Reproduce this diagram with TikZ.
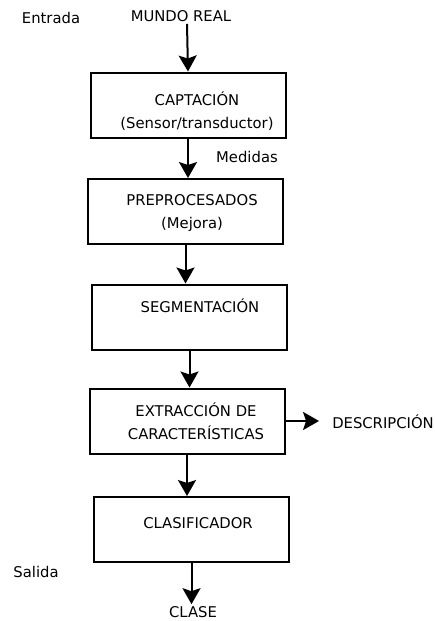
\documentclass[tikz,border=0pt]{standalone}
\usepackage{fontspec}
\setmainfont{DejaVu Sans}
\usetikzlibrary{arrows.meta}
\tikzset{
  caja/.style={draw, line width=2pt, minimum width=195pt, minimum height=65pt, inner sep=0pt},
  txt/.style={font=\fontsize{14.8}{23}\selectfont, inner sep=2pt, align=center},
  flecha/.style={line width=2pt, -{Stealth[length=16pt, width=18pt, inset=3pt]}}
}
\begin{document}
\begin{tikzpicture}[x=1pt, y=-1pt]
\useasboundingbox (0,0) rectangle (434,621);
\node[txt] (ent) at (51,18){Entrada};
\node[txt] (mundo) at (181,16){MUNDO REAL};
\node[caja] (caja1) at (188,105){};
\node[txt] (t1) at (197,111){CAPTACIÓN\\(Sensor/transductor)};
\node[txt] (med) at (247,157){Medidas};
\node[caja] (caja2) at (185.5,211.5){};
\node[txt] (t2) at (192,213){PREPROCESADOS\\(Mejora)};
\node[caja] (caja3) at (189.5,317){};
\node[txt] (t3) at (200,306){SEGMENTACIÓN};
\node[caja] (caja4) at (187,421){};
\node[txt] (t4) at (196,421){EXTRACCIÓN DE\\CARACTERÍSTICAS};
\node[txt] (desc) at (383,422){DESCRIPCIÓN};
\node[caja] (caja5) at (191.5,529.5){};
\node[txt] (t5) at (198,523){CLASIFICADOR};
\node[txt] (sal) at (36,572){Salida};
\node[txt] (clase) at (193,612){CLASE};
\draw[flecha] (mundo.south) ++(6,0) -- (caja1.north);
\draw[flecha] (caja1.south) -- (caja1.south |- caja2.north);
\draw[flecha] (caja2.south) -- (caja2.south |- caja3.north);
\draw[flecha] (caja3.south) -- (caja3.south |- caja4.north);
\draw[flecha] (caja4.south) -- (caja4.south |- caja5.north);
\draw[flecha] (caja5.south) -- (caja5.south |- clase.north);
\draw[flecha, shorten >=11pt] (caja4.east) -- (caja4.east -| desc.west);
\end{tikzpicture}
\end{document}
